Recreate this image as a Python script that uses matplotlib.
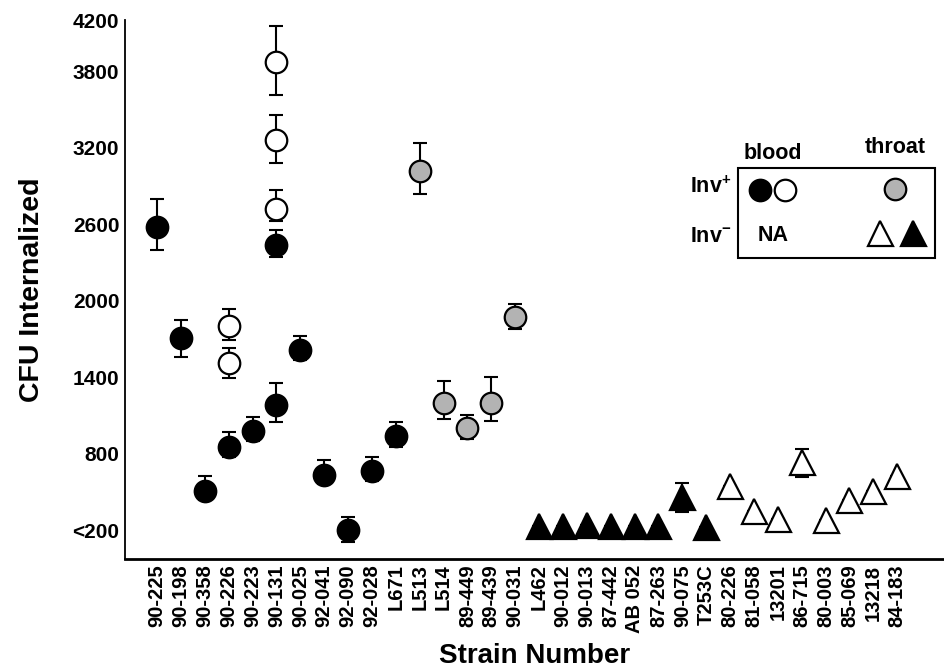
import matplotlib
matplotlib.use("Agg")
import matplotlib.pyplot as plt
from matplotlib.lines import Line2D
from matplotlib.patches import Rectangle

plt.rcParams['font.family'] = ['Liberation Sans', 'DejaVu Sans']
plt.rcParams['font.weight'] = 'bold'
plt.rcParams['mathtext.fontset'] = 'custom'
plt.rcParams['mathtext.rm'] = 'Liberation Sans:bold'
plt.rcParams['mathtext.bf'] = 'Liberation Sans:bold'

# ---------------- data ----------------
strains = ['90-225', '90-198', '90-358', '90-226', '90-223', '90-131', '90-025',
           '92-041', '92-090', '92-028', 'L671', 'L513', 'L514', '89-449',
           '89-439', '90-031', 'L462', '90-012', '90-013', '87-442', 'AB 052',
           '87-263', '90-075', 'T253C', '80-226', '81-058', '13201', '86-715',
           '80-003', '85-069', '13218', '84-183']

ytick_vals = [200, 800, 1400, 2000, 2600, 3200, 3800, 4200]
ytick_labels = ['<200', '800', '1400', '2000', '2600', '3200', '3800', '4200']

# blood, Inv+, filled circles
bf_strains = ['90-225', '90-198', '90-358', '90-226', '90-223', '90-131', '90-131',
              '90-025', '92-041', '92-090', '92-028', 'L671']
bf_vals = [2578, 1704, 508, 855, 980, 2434, 1184, 1614, 633, 202, 667, 939]
bf_lo = [177, 149, 70, 79, 81, 91, 136, 80, 70, 91, 81, 89]
bf_hi = [217, 148, 117, 112, 107, 118, 170, 108, 115, 100, 105, 107]

# blood, Inv+, open circles
bo_strains = ['90-226', '90-226', '90-131', '90-131', '90-131']
bo_vals = [1802, 1508, 3870, 3257, 2717]
bo_lo = [112, 118, 255, 178, 92]
bo_hi = [131, 122, 282, 201, 154]

# throat, Inv+, grey circles
tg_strains = ['L513', 'L514', '89-449', '89-439', '90-031']
tg_vals = [3016, 1195, 1004, 1199, 1873]
tg_lo = [182, 126, 91, 143, 99]
tg_hi = [223, 177, 99, 204, 99]

# throat, Inv-, filled triangles
tf_strains = ['L462', '90-012', '90-013', '87-442', 'AB 052', '87-263', '90-075', 'T253C']
tf_vals = [234, 236, 240, 234, 230, 234, 463, 222]
tf_lo = [0, 0, 0, 0, 0, 0, 117, 0]
tf_hi = [0, 0, 0, 0, 0, 0, 105, 0]

# throat, Inv-, open triangles
to_strains = ['80-226', '81-058', '13201', '86-715', '80-003', '85-069', '13218', '84-183']
to_vals = [549, 353, 287, 735, 277, 437, 509, 627]
to_lo = [0, 0, 0, 115, 0, 0, 0, 0]
to_hi = [0, 0, 0, 99, 0, 0, 0, 0]

# ---------------- plot ----------------
fig = plt.figure(figsize=(9.45, 6.7), dpi=100)
ax = fig.add_axes([125 / 945, 1 - 559 / 670, 820 / 945, 539 / 670])

pos = {s: i for i, s in enumerate(strains)}
GREY = '#b3b3b3'
CIRC = 15.5
TRI = 18


def series(names, vals, lo, hi, marker, face, ms):
    xs = [pos[n] for n in names]
    ax.errorbar(xs, vals, yerr=[lo, hi], fmt='none', ecolor='black',
                elinewidth=1.5, capsize=4.7, capthick=1.5, zorder=2)
    ax.plot(xs, vals, linestyle='none', marker=marker, markersize=ms,
            markerfacecolor=face, markeredgecolor='black', markeredgewidth=1.6,
            zorder=3)


series(bf_strains, bf_vals, bf_lo, bf_hi, 'o', 'black', CIRC)
series(bo_strains, bo_vals, bo_lo, bo_hi, 'o', 'white', CIRC)
series(tg_strains, tg_vals, tg_lo, tg_hi, 'o', GREY, CIRC)
series(tf_strains, tf_vals, tf_lo, tf_hi, '^', 'black', TRI)
series(to_strains, to_vals, to_lo, to_hi, '^', 'white', TRI)

ax.set_xlim(-1.34, 33.0)
ax.set_ylim(-25, 4200)
ax.set_xticks(range(len(strains)))
ax.set_xticklabels(strains, rotation=90, fontsize=14.5, fontweight='bold')
ax.set_yticks(ytick_vals)
ax.set_yticklabels(ytick_labels, fontsize=15, fontweight='bold')
ax.tick_params(axis='both', length=0)
ax.tick_params(axis='y', pad=4)
ax.tick_params(axis='x', pad=4)

for side in ('top', 'right'):
    ax.spines[side].set_visible(False)
ax.spines['left'].set_linewidth(1.3)
ax.spines['bottom'].set_linewidth(2.0)

ax.set_ylabel('CFU Internalized', fontsize=20.5, fontweight='bold', labelpad=20)
ax.set_xlabel('Strain Number', fontsize=20, fontweight='bold', labelpad=7)

# ---------------- legend box ----------------
T = ax.transAxes
LF = 15.5
ax.add_patch(Rectangle((0.7476, 0.5584), 0.2402, 0.167, transform=T,
                       fill=False, edgecolor='black', linewidth=1.5, zorder=4,
                       clip_on=False))
ax.text(0.790, 0.752, 'blood', transform=T, ha='center', va='center',
        fontsize=LF, fontweight='bold')
ax.text(0.939, 0.764, 'throat', transform=T, ha='center', va='center',
        fontsize=LF, fontweight='bold')
ax.text(0.740, 0.690, 'Inv$^{+}$', transform=T, ha='right', va='center',
        fontsize=LF, fontweight='bold')
ax.text(0.740, 0.599, 'Inv$^{-}$', transform=T, ha='right', va='center',
        fontsize=LF, fontweight='bold')
ax.text(0.790, 0.601, 'NA', transform=T, ha='center', va='center',
        fontsize=LF, fontweight='bold')
leg_items = [((0.774, 0.685), 'o', 'black', CIRC),
             ((0.805, 0.685), 'o', 'white', CIRC),
             ((0.939, 0.686), 'o', GREY, CIRC),
             ((0.921, 0.605), '^', 'white', TRI),
             ((0.961, 0.605), '^', 'black', TRI)]
for (lx, ly), m, fc, ms in leg_items:
    ax.add_line(Line2D([lx], [ly], transform=T, marker=m, markersize=ms,
                       markerfacecolor=fc, markeredgecolor='black',
                       markeredgewidth=1.6, linestyle='none', zorder=5,
                       clip_on=False))

fig.savefig('out.png', dpi=100)
